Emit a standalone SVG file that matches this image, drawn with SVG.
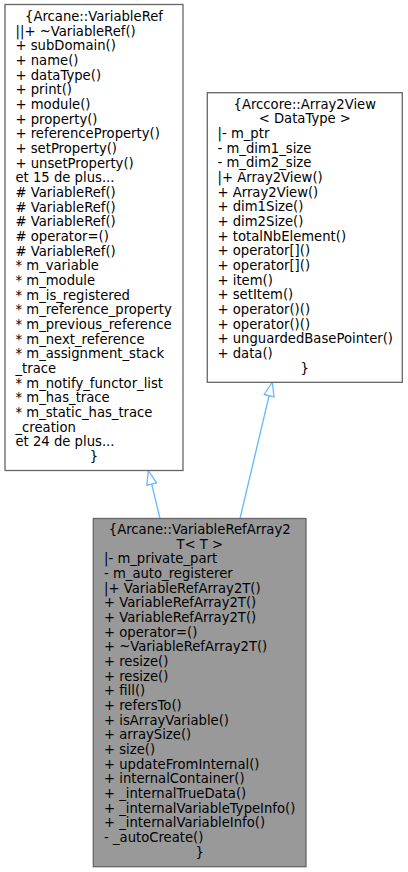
<svg xmlns="http://www.w3.org/2000/svg" width="408" height="872" viewBox="0 0 408 872">
<style>
text{font-family:"DejaVu Sans","Noto Sans",sans-serif;font-size:13.2px;fill:#000}
.c{text-anchor:middle}
.box{fill:#fff;stroke:#666;stroke-width:1.3}
.sel{fill:#999;stroke:#666;stroke-width:1.3}
.edge{stroke:#63b8ff;stroke-width:1.3;fill:none}
.head{stroke:#63b8ff;stroke-width:1.3;fill:#fff}
</style>
<rect width="408" height="872" fill="#fff"/>
<g id="edges">
<line class="edge" x1="160" y1="518.5" x2="151.7" y2="484.1"/>
<polygon class="head" points="148.3,470.5 156.55,482.9 146.85,485.3"/>
<line class="edge" x1="240" y1="518.5" x2="269.1" y2="395.6"/>
<polygon class="head" points="272.3,382 274,396.8 264.2,394.5"/>
</g>
<g id="VariableRef">
<rect class="box" x="5" y="4.5" width="178" height="466"/>
<text class="c" x="94" y="21">{Arcane::VariableRef</text>
<text x="15.5" y="35.67">||+ ~VariableRef()</text>
<text x="15.5" y="50.34">+ subDomain()</text>
<text x="15.5" y="65.01">+ name()</text>
<text x="15.5" y="79.68">+ dataType()</text>
<text x="15.5" y="94.35">+ print()</text>
<text x="15.5" y="109.02">+ module()</text>
<text x="15.5" y="123.69">+ property()</text>
<text x="15.5" y="138.36">+ referenceProperty()</text>
<text x="15.5" y="153.03">+ setProperty()</text>
<text x="15.5" y="167.7">+ unsetProperty()</text>
<text x="15.5" y="182.37">et 15 de plus...</text>
<text x="15.5" y="197.04"># VariableRef()</text>
<text x="15.5" y="211.71"># VariableRef()</text>
<text x="15.5" y="226.38"># VariableRef()</text>
<text x="15.5" y="241.05"># operator=()</text>
<text x="15.5" y="255.72"># VariableRef()</text>
<text x="15.5" y="270.39">* m_variable</text>
<text x="15.5" y="285.06">* m_module</text>
<text x="15.5" y="299.73">* m_is_registered</text>
<text x="15.5" y="314.4">* m_reference_property</text>
<text x="15.5" y="329.07">* m_previous_reference</text>
<text x="15.5" y="343.74">* m_next_reference</text>
<text x="15.5" y="358.41">* m_assignment_stack</text>
<text x="15.5" y="373.08">_trace</text>
<text x="15.5" y="387.75">* m_notify_functor_list</text>
<text x="15.5" y="402.42">* m_has_trace</text>
<text x="15.5" y="417.09">* m_static_has_trace</text>
<text x="15.5" y="431.76">_creation</text>
<text x="15.5" y="446.43">et 24 de plus...</text>
<text class="c" x="94" y="461.1">}</text>
</g>
<g id="Array2View">
<rect class="box" x="207.3" y="92.7" width="195" height="289.6"/>
<text class="c" x="304.8" y="108.7">{Arccore::Array2View</text>
<text class="c" x="304.8" y="123.37">&lt; DataType &gt;</text>
<text x="217.5" y="138.04">|- m_ptr</text>
<text x="217.5" y="152.71">- m_dim1_size</text>
<text x="217.5" y="167.38">- m_dim2_size</text>
<text x="217.5" y="182.05">|+ Array2View()</text>
<text x="217.5" y="196.72">+ Array2View()</text>
<text x="217.5" y="211.39">+ dim1Size()</text>
<text x="217.5" y="226.06">+ dim2Size()</text>
<text x="217.5" y="240.73">+ totalNbElement()</text>
<text x="217.5" y="255.4">+ operator[]()</text>
<text x="217.5" y="270.07">+ operator[]()</text>
<text x="217.5" y="284.74">+ item()</text>
<text x="217.5" y="299.41">+ setItem()</text>
<text x="217.5" y="314.08">+ operator()()</text>
<text x="217.5" y="328.75">+ operator()()</text>
<text x="217.5" y="343.42">+ unguardedBasePointer()</text>
<text x="217.5" y="358.09">+ data()</text>
<text class="c" x="304.8" y="372.76">}</text>
</g>
<g id="VariableRefArray2T">
<rect class="sel" x="93.3" y="518.5" width="212.7" height="348.2"/>
<text class="c" x="199.7" y="534">{Arcane::VariableRefArray2</text>
<text class="c" x="199.7" y="548.67">T&lt; T &gt;</text>
<text x="104" y="563.34">|- m_private_part</text>
<text x="104" y="578.01">- m_auto_registerer</text>
<text x="104" y="592.68">|+ VariableRefArray2T()</text>
<text x="104" y="607.35">+ VariableRefArray2T()</text>
<text x="104" y="622.02">+ VariableRefArray2T()</text>
<text x="104" y="636.69">+ operator=()</text>
<text x="104" y="651.36">+ ~VariableRefArray2T()</text>
<text x="104" y="666.03">+ resize()</text>
<text x="104" y="680.7">+ resize()</text>
<text x="104" y="695.37">+ fill()</text>
<text x="104" y="710.04">+ refersTo()</text>
<text x="104" y="724.71">+ isArrayVariable()</text>
<text x="104" y="739.38">+ arraySize()</text>
<text x="104" y="754.05">+ size()</text>
<text x="104" y="768.72">+ updateFromInternal()</text>
<text x="104" y="783.39">+ internalContainer()</text>
<text x="104" y="798.06">+ _internalTrueData()</text>
<text x="104" y="812.73">+ _internalVariableTypeInfo()</text>
<text x="104" y="827.4">+ _internalVariableInfo()</text>
<text x="104" y="842.07">- _autoCreate()</text>
<text class="c" x="199.7" y="856.74">}</text>
</g>
</svg>
